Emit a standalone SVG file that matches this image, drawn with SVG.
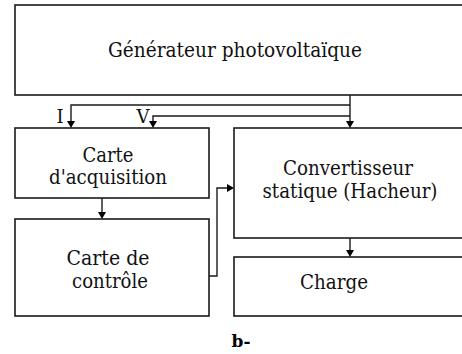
<svg xmlns="http://www.w3.org/2000/svg" width="462" height="354" viewBox="0 0 462 354">
  <defs>
    <style>
      .box { fill: #ffffff; stroke: #1a1a1a; stroke-width: 1.6; }
      .wire { fill: none; stroke: #1a1a1a; stroke-width: 1.4; }
      .head { fill: #000000; }
      .lbl { font-size: 20px; fill: #111111; text-anchor: middle; }
      .sig { font-size: 18px; fill: #111111; text-anchor: middle; }
      .cap { font-size: 17px; font-weight: bold; fill: #000000; text-anchor: middle; }
    </style>
  </defs>
  <rect width="462" height="354" fill="#ffffff"/>

  <g font-family="DejaVu Serif, serif">
    <g id="generateur">
      <rect class="box" x="15" y="5" width="460" height="90"/>
      <text class="lbl" x="235" y="57" textLength="254" lengthAdjust="spacingAndGlyphs">Générateur photovoltaïque</text>
    </g>

    <g id="acquisition">
      <rect class="box" x="15" y="128" width="194" height="70"/>
      <text class="lbl" x="108" y="162" textLength="51" lengthAdjust="spacingAndGlyphs">Carte</text>
      <text class="lbl" x="108" y="184" textLength="118" lengthAdjust="spacingAndGlyphs">d'acquisition</text>
    </g>

    <g id="controle">
      <rect class="box" x="15" y="219" width="194" height="97"/>
      <text class="lbl" x="108" y="265" textLength="83" lengthAdjust="spacingAndGlyphs">Carte de</text>
      <text class="lbl" x="110" y="288" textLength="76" lengthAdjust="spacingAndGlyphs">contrôle</text>
    </g>

    <g id="convertisseur">
      <rect class="box" x="234" y="128" width="240" height="110"/>
      <text class="lbl" x="348" y="175" textLength="130" lengthAdjust="spacingAndGlyphs">Convertisseur</text>
      <text class="lbl" x="350" y="198" textLength="175" lengthAdjust="spacingAndGlyphs">statique (Hacheur)</text>
    </g>

    <g id="charge">
      <rect class="box" x="234" y="257" width="240" height="59"/>
      <text class="lbl" x="334" y="289" textLength="68" lengthAdjust="spacingAndGlyphs">Charge</text>
    </g>

    <g id="connectors">
      <!-- generator output to converter -->
      <path class="wire" d="M350 95 V122"/>
      <polygon class="head" points="346,121 354,121 350,128"/>
      <!-- current measurement -->
      <path class="wire" d="M350 105 H71 V122"/>
      <polygon class="head" points="67,121 75,121 71,128"/>
      <!-- voltage measurement -->
      <path class="wire" d="M350 116 H153 V122"/>
      <polygon class="head" points="149,121 157,121 153,128"/>
      <!-- acquisition to control -->
      <path class="wire" d="M102 198 V213"/>
      <polygon class="head" points="98,212 106,212 102,219"/>
      <!-- control to converter -->
      <path class="wire" d="M209 276 H217 V188 H228"/>
      <polygon class="head" points="227,184 227,192 234,188"/>
      <!-- converter to load -->
      <path class="wire" d="M350 238 V251"/>
      <polygon class="head" points="346,250 354,250 350,257"/>
    </g>

    <g id="signal-labels">
      <text class="sig" x="60" y="123">I</text>
      <text class="sig" x="143" y="123">V</text>
    </g>

    <text class="cap" x="241" y="347">b-</text>
  </g>
</svg>
